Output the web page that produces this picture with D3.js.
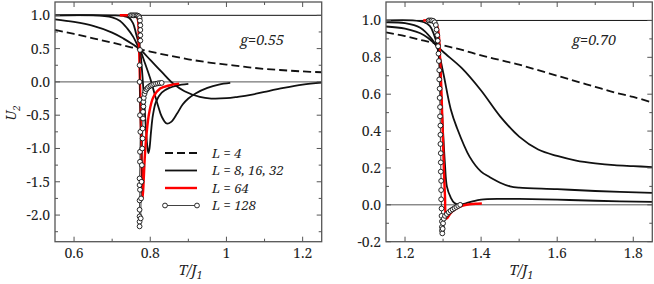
<!DOCTYPE html>
<html>
<head>
<meta charset="utf-8">
<script src="https://cdn.jsdelivr.net/npm/d3@7"></script>
<style>
  body { margin: 0; background: #fff; }
</style>
</head>
<body>
<div id="chart"></div>
<script>

var serif = "'Noto Serif', 'DejaVu Serif', serif";

// ---- data : g = 0.55 (left panel), [T/J1, U2]
var leftL4 = [[0.55,0.78],[0.6,0.72],[0.65,0.655],[0.7,0.59],[0.75,0.52],[0.8,0.455],[0.85,0.395],[0.9,0.34],[0.95,0.295],[1.0,0.26],[1.05,0.225],[1.1,0.195],[1.15,0.175],[1.2,0.157],[1.25,0.145]];
var leftL8 = [[0.55,0.94],[0.6,0.9],[0.65,0.84],[0.7,0.74],[0.73,0.65],[0.755,0.56],[0.773,0.49],[0.8,0.33],[0.83,0.15],[0.86,-0.025],[0.89,-0.14],[0.93,-0.225],[0.96,-0.25],[1.0,-0.245],[1.03,-0.225],[1.06,-0.2],[1.1,-0.15],[1.15,-0.09],[1.2,-0.04],[1.25,-0.01]];
var leftL16 = [[0.55,1.0],[0.65,1.0],[0.68,0.99],[0.7,0.97],[0.72,0.92],[0.74,0.8],[0.755,0.68],[0.765,0.57],[0.773,0.49],[0.785,0.3],[0.8,0.05],[0.81,-0.15],[0.82,-0.35],[0.83,-0.52],[0.843,-0.625],[0.855,-0.6],[0.87,-0.48],[0.885,-0.34],[0.9,-0.25],[0.92,-0.17],[0.95,-0.09],[0.98,-0.04],[1.01,-0.015]];
var leftL32 = [[0.55,1.0],[0.7,1.0],[0.73,0.99],[0.745,0.96],[0.755,0.88],[0.763,0.72],[0.773,0.49],[0.778,0.2],[0.783,-0.2],[0.788,-0.65],[0.792,-0.95],[0.795,-1.07],[0.798,-1.0],[0.802,-0.75],[0.807,-0.5],[0.815,-0.3],[0.83,-0.16],[0.85,-0.09],[0.87,-0.055],[0.9,-0.03]];
var leftL64 = [[0.72,1.0],[0.745,1.0],[0.76,0.995],[0.766,0.97],[0.77,0.6],[0.773,0.0],[0.776,-0.8],[0.778,-1.4],[0.78,-1.75],[0.783,-1.45],[0.786,-1.1],[0.79,-0.8],[0.797,-0.47],[0.808,-0.23],[0.826,-0.1],[0.852,-0.05],[0.876,-0.025]];
var leftL128 = [[0.748,1.0],[0.752,1.0],[0.756,1.0],[0.76,1.0],[0.764,1.0],[0.767,0.995],[0.77,0.985],[0.772,0.96],[0.773,0.92],[0.774,0.85],[0.774,0.78],[0.774,0.7],[0.774,0.62],[0.773,0.48],[0.772,0.25],[0.772,0.0],[0.772,-0.27],[0.773,-0.5],[0.774,-0.75],[0.773,-1.05],[0.773,-1.2],[0.772,-1.45],[0.772,-1.55],[0.773,-1.62],[0.772,-1.78],[0.772,-1.92],[0.772,-2.02],[0.772,-2.1],[0.772,-2.17],
  [0.775,-2.05],[0.776,-1.75],[0.777,-1.5],[0.778,-1.25],[0.779,-1.0],[0.78,-0.85],[0.78,-0.7],[0.781,-0.55],[0.781,-0.45],[0.782,-0.37],[0.782,-0.3],[0.783,-0.24],[0.785,-0.18],[0.787,-0.14],[0.79,-0.11],[0.793,-0.09],[0.797,-0.07],[0.801,-0.055],[0.805,-0.045],[0.81,-0.035],[0.815,-0.028],[0.82,-0.022],[0.825,-0.018],[0.83,-0.015]];

// ---- data : g = 0.70 (right panel)
var rightL4 = [[1.15,0.935],[1.2,0.915],[1.25,0.89],[1.3,0.865],[1.35,0.84],[1.4,0.81],[1.45,0.785],[1.5,0.76],[1.55,0.73],[1.6,0.7],[1.65,0.67],[1.7,0.64],[1.75,0.61],[1.8,0.585],[1.85,0.555]];
var rightL8 = [[1.15,0.967],[1.2,0.955],[1.25,0.92],[1.28,0.87],[1.3,0.83],[1.35,0.74],[1.4,0.62],[1.45,0.48],[1.5,0.37],[1.55,0.3],[1.6,0.265],[1.65,0.24],[1.7,0.225],[1.75,0.215],[1.8,0.21],[1.85,0.205]];
var rightL16 = [[1.15,0.99],[1.2,0.985],[1.24,0.96],[1.27,0.9],[1.285,0.85],[1.3,0.72],[1.32,0.52],[1.336,0.42],[1.37,0.26],[1.4,0.18],[1.423,0.15],[1.45,0.12],[1.476,0.1],[1.5,0.093],[1.6,0.085],[1.7,0.075],[1.85,0.065]];
var rightL32 = [[1.15,1.0],[1.22,1.0],[1.25,0.99],[1.265,0.97],[1.275,0.93],[1.285,0.86],[1.29,0.78],[1.295,0.6],[1.3,0.4],[1.305,0.22],[1.31,0.1],[1.32,0.04],[1.33,0.01],[1.345,0.0],[1.36,0.008],[1.38,0.02],[1.4,0.028],[1.45,0.032],[1.5,0.032],[1.6,0.028],[1.7,0.022],[1.85,0.016]];
var rightL64 = [[1.248,1.0],[1.27,1.0],[1.28,0.99],[1.287,0.95],[1.292,0.8],[1.296,0.6],[1.299,0.4],[1.302,0.2],[1.305,0.05],[1.309,-0.075],[1.32,-0.045],[1.335,-0.02],[1.35,-0.005],[1.37,0.003],[1.39,0.006],[1.402,0.007]];
var rightL128 = [[1.262,1.0],[1.266,1.0],[1.27,1.0],[1.274,0.998],[1.278,0.99],[1.281,0.975],[1.283,0.95],[1.285,0.92],[1.286,0.89],[1.287,0.86],[1.288,0.82],[1.289,0.78],[1.29,0.73],[1.29,0.68],[1.291,0.63],[1.291,0.58],[1.292,0.53],[1.292,0.48],[1.293,0.43],[1.293,0.38],[1.293,0.33],[1.294,0.28],[1.294,0.23],[1.294,0.18],[1.295,0.13],[1.295,0.08],[1.295,0.03],[1.296,-0.02],[1.296,-0.06],[1.297,-0.09],[1.297,-0.12],[1.297,-0.14],[1.298,-0.155],
  [1.299,-0.13],[1.3,-0.1],[1.302,-0.075],[1.305,-0.06],[1.31,-0.05],[1.315,-0.04],[1.32,-0.032],[1.325,-0.025],[1.33,-0.018],[1.335,-0.012],[1.34,-0.006],[1.345,0.0]];

// axis ticks
var leftXMajor = [0.6, 0.8, 1.0, 1.2], leftXMinor = [0.7, 0.9, 1.1];
var leftYMajor = [-2.0, -1.5, -1.0, -0.5, 0.0, 0.5, 1.0], leftYMinor = [-2.25, -1.75, -1.25, -0.75, -0.25, 0.25, 0.75];
var rightXMajor = [1.2, 1.4, 1.6, 1.8], rightXMinor = [1.3, 1.5, 1.7];
var rightYMajor = [-0.2, 0.0, 0.2, 0.4, 0.6, 0.8, 1.0], rightYMinor = [-0.1, 0.1, 0.3, 0.5, 0.7, 0.9];

var legendLabels = ["L = 4", "L = 8, 16, 32", "L = 64", "L = 128"];

var svg = d3.select("#chart").append("svg")
  .attr("width", 654)
  .attr("height", 284)
  .style("font-family", serif);

function drawPanel(opt) {
  var x = d3.scaleLinear().domain(opt.xDomain).range(opt.xRange);
  var y = d3.scaleLinear().domain(opt.yDomain).range([241.7, 2]);

  var g = svg.append("g");

  // reference lines at U=1 and U=0
  [1, 0].forEach(function(v) {
    g.append("line")
      .attr("x1", opt.xRange[0]).attr("x2", opt.xRange[1])
      .attr("y1", y(v)).attr("y2", y(v))
      .attr("stroke", v == 1 ? "#111" : "#555")
      .attr("stroke-width", 1);
  });

  var line = d3.line()
    .x(function(d) { return x(d[0]); })
    .y(function(d) { return y(d[1]); })
    .curve(d3.curveCatmullRom.alpha(0.5));

  // L = 4 dashed
  g.append("path").datum(opt.l4)
    .attr("d", line).attr("fill", "none")
    .attr("stroke", "#111").attr("stroke-width", 1.8)
    .attr("stroke-dasharray", "8,4");

  // L = 8, 16, 32
  [opt.l8, opt.l16, opt.l32].forEach(function(s) {
    g.append("path").datum(s)
      .attr("d", line).attr("fill", "none")
      .attr("stroke", "#111").attr("stroke-width", 1.8);
  });

  // L = 64 red
  g.append("path").datum(opt.l64)
    .attr("d", line).attr("fill", "none")
    .attr("stroke", "#ff0000").attr("stroke-width", 2.4);

  // L = 128 circles
  g.append("path").datum(opt.l128)
    .attr("d", d3.line().x(function(d) { return x(d[0]); }).y(function(d) { return y(d[1]); }))
    .attr("fill", "none").attr("stroke", "#111").attr("stroke-width", 0.8);
  g.selectAll("circle.p").data(opt.l128).enter()
    .append("circle")
    .attr("cx", function(d) { return x(d[0]); })
    .attr("cy", function(d) { return y(d[1]); })
    .attr("r", 2.4)
    .attr("fill", "#fff").attr("stroke", "#111").attr("stroke-width", 0.9);

  // frame
  g.append("rect")
    .attr("x", opt.xRange[0]).attr("y", 2)
    .attr("width", opt.xRange[1] - opt.xRange[0]).attr("height", 239.7)
    .attr("fill", "none").attr("stroke", "#555").attr("stroke-width", 1.3);

  // ticks (inward, on all four sides)
  function ticks(vals, len) {
    vals.forEach(function(v) {
      g.append("line").attr("x1", x(v)).attr("x2", x(v)).attr("y1", 241.7).attr("y2", 241.7 - len).attr("stroke", "#555");
      g.append("line").attr("x1", x(v)).attr("x2", x(v)).attr("y1", 2).attr("y2", 2 + len).attr("stroke", "#555");
    });
  }
  function yticks(vals, len) {
    vals.forEach(function(v) {
      g.append("line").attr("y1", y(v)).attr("y2", y(v)).attr("x1", opt.xRange[0]).attr("x2", opt.xRange[0] + len).attr("stroke", "#555");
      g.append("line").attr("y1", y(v)).attr("y2", y(v)).attr("x1", opt.xRange[1]).attr("x2", opt.xRange[1] - len).attr("stroke", "#555");
    });
  }
  ticks(opt.xMajor, 5); ticks(opt.xMinor, 3);
  yticks(opt.yMajor, 5); yticks(opt.yMinor, 3);

  g.selectAll("text.xl").data(opt.xMajor).enter()
    .append("text")
    .attr("x", function(d) { return x(d); })
    .attr("y", 258)
    .attr("text-anchor", "middle")
    .attr("font-family", serif)
    .attr("font-size", 14)
    .attr("fill", "#222")
    .text(function(d) { return d == 1 ? "1" : d3.format(".1f")(d); });

  g.selectAll("text.yl").data(opt.yMajor).enter()
    .append("text")
    .attr("x", opt.xRange[0] - 5)
    .attr("y", function(d) { return y(d) + 5; })
    .attr("text-anchor", "end")
    .attr("font-family", serif)
    .attr("font-size", 14)
    .attr("fill", "#222")
    .text(function(d) { return d3.format(".1f")(d).replace("\u2212", "-"); });

  // axis title T/J1
  var xt = g.append("text")
    .attr("x", (opt.xRange[0] + opt.xRange[1]) / 2 + 2)
    .attr("y", 275)
    .attr("text-anchor", "middle")
    .attr("font-family", serif)
    .attr("font-size", 14.5)
    .attr("font-style", "italic")
    .attr("fill", "#222");
  xt.append("tspan").text("T/J");
  xt.append("tspan").attr("font-size", 10).attr("dy", 4).text("1");

  // g label
  g.append("text")
    .attr("x", opt.gX).attr("y", 45)
    .attr("font-family", serif)
    .attr("font-size", 14.5)
    .attr("font-style", "italic")
    .attr("fill", "#222")
    .text(opt.gLabel);

  return { x: x, y: y, g: g };
}

var left = drawPanel({
  xDomain: [0.55, 1.25], xRange: [55, 321.7], yDomain: [-2.4, 1.2],
  l4: leftL4, l8: leftL8, l16: leftL16, l32: leftL32, l64: leftL64, l128: leftL128,
  xMajor: leftXMajor, xMinor: leftXMinor, yMajor: leftYMajor, yMinor: leftYMinor,
  gLabel: "g=0.55", gX: 240
});

var right = drawPanel({
  xDomain: [1.15, 1.85], xRange: [386, 652.3], yDomain: [-0.2, 1.1],
  l4: rightL4, l8: rightL8, l16: rightL16, l32: rightL32, l64: rightL64, l128: rightL128,
  xMajor: rightXMajor, xMinor: rightXMinor, yMajor: rightYMajor, yMinor: rightYMinor,
  gLabel: "g=0.70", gX: 572
});

// y axis title U2
var yt = svg.append("text")
  .attr("transform", "translate(16,113) rotate(-90)")
  .attr("text-anchor", "middle")
  .attr("font-family", serif)
  .attr("font-size", 13.5)
  .attr("font-style", "italic")
  .attr("fill", "#222");
yt.append("tspan").text("U");
yt.append("tspan").attr("font-size", 9.5).attr("dy", 3.5).text("2");

// legend (left panel)
var legend = svg.append("g");
var legendY = [153, 170.5, 188, 205.5];
legendLabels.forEach(function(lbl, i) {
  var ly = legendY[i];
  var ln = legend.append("line")
    .attr("x1", 165).attr("x2", 197).attr("y1", ly).attr("y2", ly);
  if (i == 0) ln.attr("stroke", "#111").attr("stroke-width", 1.8).attr("stroke-dasharray", "8,4");
  if (i == 1) ln.attr("stroke", "#111").attr("stroke-width", 1.8);
  if (i == 2) ln.attr("stroke", "#ff0000").attr("stroke-width", 2.4);
  if (i == 3) {
    ln.attr("stroke", "#111").attr("stroke-width", 0.8);
    [165, 197].forEach(function(cx) {
      legend.append("circle").attr("cx", cx).attr("cy", ly).attr("r", 2.4)
        .attr("fill", "#fff").attr("stroke", "#111").attr("stroke-width", 0.9);
    });
  }
  legend.append("text")
    .attr("x", 212).attr("y", ly + 4.5)
    .attr("font-family", serif)
    .attr("font-size", 13)
    .attr("font-style", "italic")
    .attr("fill", "#222")
    .text(lbl);
});

</script>
</body>
</html>
